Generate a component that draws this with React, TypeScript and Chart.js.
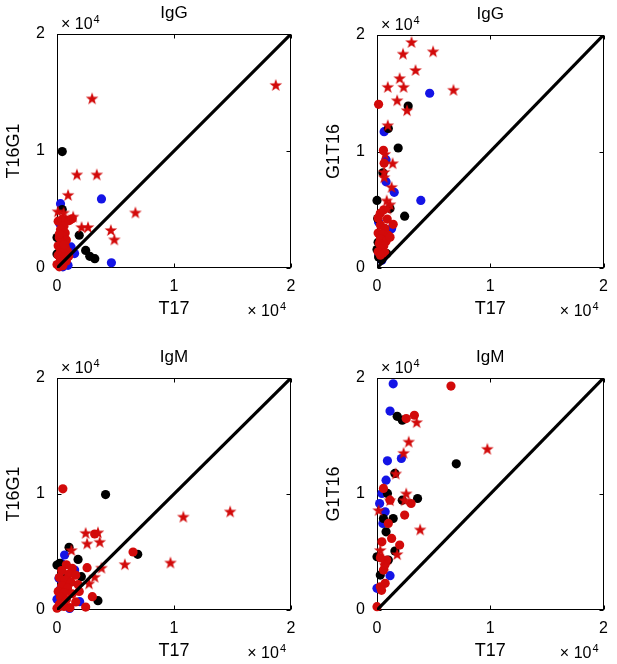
import React, { useEffect, useRef } from 'react';
import { Chart, registerables } from 'chart.js';
Chart.register(...registerables);

type Pt = [number, number];

const AXIS_MIN = 0;
const AXIS_MAX = 20000;
const TICK_VALUES = [0, 10000, 20000];
const TICK_LABELS = ['0', '1', '2'];
const PANEL_TITLES = ['IgG', 'IgG', 'IgM', 'IgM'];
const X_LABELS = ['T17', 'T17', 'T17', 'T17'];
const Y_LABELS = ['T16G1', 'G1T16', 'T16G1', 'G1T16'];
const DIAGONAL: Pt[] = [[0, 0], [20000, 20000]];

// Panel 1: IgG, T17 vs T16G1
const iggT16G1Blue: Pt[] = [[3800, 5900], [4650, 450], [300, 5500], [230, 3800], [1200, 1800], [1500, 1230], [940, 230], [230, 370], [500, 100]];
const iggT16G1Black: Pt[] = [[450, 9950], [450, 5000], [0, 2600], [1900, 2800], [2450, 1500], [2800, 1000], [3230, 800], [0, 1200], [500, 1800]];
const iggT16G1Red: Pt[] = [[100, 4000], [450, 4150], [750, 4100], [1050, 4050], [1300, 4200], [600, 3600], [300, 3300], [700, 3000], [500, 2700], [200, 2600], [800, 2400], [400, 2200], [100, 1900], [700, 1800], [300, 1600], [900, 1400], [500, 1300], [100, 1100], [600, 900], [300, 700], [800, 600], [0, 300], [200, 100], [500, 200], [400, 500], [1000, 1000], [200, 2900], [600, 2000]];
const iggT16G1Star: Pt[] = [[18700, 15650], [3000, 14500], [1700, 8000], [3400, 8000], [950, 6250], [6700, 4750], [70, 4850], [4600, 3250], [4900, 2450], [2650, 3500], [2100, 3500], [1380, 4400], [570, 4740]];

// Panel 2: IgG, T17 vs G1T16
const iggG1T16Blue: Pt[] = [[4650, 15000], [630, 11700], [800, 9300], [800, 7400], [1520, 6500], [3870, 5800], [1290, 3380], [140, 3950], [430, 660], [140, 1230]];
const iggG1T16Black: Pt[] = [[2750, 13900], [1000, 11980], [1870, 10300], [0, 5800], [520, 8170], [2440, 4450], [60, 4240], [140, 950], [0, 1580], [860, 1230], [1150, 5100], [400, 700], [100, 2200]];
const iggG1T16Red: Pt[] = [[140, 14050], [570, 10100], [630, 9000], [1430, 3750], [290, 4700], [600, 5000], [100, 4300], [900, 4200], [300, 3700], [700, 3400], [100, 3000], [500, 2900], [1000, 2800], [300, 2500], [800, 2300], [200, 2100], [600, 1900], [400, 1600], [100, 1400], [700, 1300], [300, 1100], [1150, 2650]];
const iggG1T16Star: Pt[] = [[3050, 19400], [2300, 18400], [4950, 18600], [3400, 17000], [2000, 16300], [950, 15550], [2350, 15550], [6750, 15300], [1780, 14400], [2650, 13550], [950, 12260], [1380, 9000], [630, 8250], [1290, 6960], [630, 7800], [860, 5800], [1150, 5470], [920, 5100], [700, 9800]];

// Panel 3: IgM, T17 vs T16G1
const igmT16G1Blue: Pt[] = [[650, 4740], [370, 4020], [170, 2730], [1940, 720], [0, 920], [1080, 140], [1510, 3440], [300, 1800]];
const igmT16G1Black: Pt[] = [[4150, 9950], [6900, 4800], [1030, 5400], [0, 3870], [1800, 4360], [2080, 2870], [3500, 800], [740, 2730], [230, 4020]];
const igmT16G1Red: Pt[] = [[500, 10450], [3220, 6550], [6500, 5000], [2570, 3650], [3020, 1150], [2450, 250], [0, 150], [800, 3900], [1300, 3600], [400, 3400], [1000, 3100], [1600, 3000], [200, 2800], [700, 2600], [1200, 2400], [1800, 2200], [400, 2100], [900, 1900], [100, 1600], [600, 1500], [1300, 1400], [300, 1100], [800, 900], [1600, 700], [200, 500], [600, 300], [1100, 200], [1900, 1600]];
const igmT16G1Star: Pt[] = [[14800, 8500], [10800, 8050], [9700, 4100], [5800, 3950], [2450, 6650], [3500, 6700], [2570, 5740], [3650, 5880], [3800, 3650], [3220, 2870], [1230, 5170], [2740, 2300]];

// Panel 4: IgM, T17 vs G1T16
const igmG1T16Blue: Pt[] = [[1430, 19500], [1150, 17150], [920, 12860], [2150, 13060], [800, 11190], [430, 10050], [230, 9180], [720, 8470], [520, 7460], [1150, 2960], [0, 1870]];
const igmG1T16Black: Pt[] = [[7000, 12600], [1780, 16700], [2230, 16360], [3580, 9610], [2230, 9470], [920, 10050], [1430, 7890], [570, 7890], [800, 6740], [0, 4590], [290, 3010], [1000, 4300], [1580, 5080], [1580, 11770]];
const igmG1T16Red: Pt[] = [[6530, 19300], [3300, 16790], [2580, 16500], [570, 10480], [3010, 9180], [2440, 8180], [1000, 7460], [430, 5880], [1290, 6170], [2000, 5600], [860, 4300], [570, 3440], [290, 2000], [0, 290], [720, 2300], [1150, 9470], [400, 1700], [700, 3900], [300, 4500]];
const igmG1T16Star: Pt[] = [[9740, 13900], [3500, 16200], [2800, 14520], [2350, 13550], [1660, 11770], [2580, 10050], [1150, 9470], [2440, 9470], [3810, 6950], [140, 8610], [290, 5170], [1780, 4820], [720, 3870]];

const PANEL_BLUE = [iggT16G1Blue, iggG1T16Blue, igmT16G1Blue, igmG1T16Blue];
const PANEL_BLACK = [iggT16G1Black, iggG1T16Black, igmT16G1Black, igmG1T16Black];
const PANEL_RED = [iggT16G1Red, iggG1T16Red, igmT16G1Red, igmG1T16Red];
const PANEL_STAR = [iggT16G1Star, iggG1T16Star, igmT16G1Star, igmG1T16Star];

const RED = '#d20a0a';
const BLUE = '#1414e6';
const BLACK = '#000000';
const FONT = '"Liberation Sans", Arial, Helvetica, sans-serif';

// layout of each panel canvas: left, top, width, height, y-axis width, pad top, pad right, x-axis height
const LAYOUT = [
  { left: 0, top: 0, width: 308, height: 332, yW: 57, padTop: 34, padRight: 17, xH: 64 },
  { left: 308, top: 0, width: 309, height: 332, yW: 69, padTop: 35, padRight: 8, xH: 64 },
  { left: 0, top: 332, width: 308, height: 332, yW: 57, padTop: 46, padRight: 17, xH: 54 },
  { left: 308, top: 332, width: 309, height: 332, yW: 69, padTop: 46, padRight: 8, xH: 54 },
];

function makeStar(color: string): HTMLCanvasElement {
  const size = 14;
  const c = document.createElement('canvas');
  c.width = size;
  c.height = size;
  const ctx = c.getContext('2d')!;
  const cx = size / 2, cy = size / 2 + 0.6;
  const R = 6.6, r = R * 0.4;
  ctx.beginPath();
  for (let i = 0; i < 10; i++) {
    const rad = i % 2 === 0 ? R : r;
    const a = -Math.PI / 2 + (i * Math.PI) / 5;
    const x = cx + rad * Math.cos(a);
    const y = cy + rad * Math.sin(a);
    if (i === 0) ctx.moveTo(x, y); else ctx.lineTo(x, y);
  }
  ctx.closePath();
  ctx.fillStyle = color;
  ctx.fill();
  return c;
}

const toXY = (arr: Pt[]) => arr.map(([x, y]) => ({ x, y }));

const decorPlugin = {
  id: 'decor',
  beforeDatasetsDraw(chart: any) {
    const { ctx, chartArea: a, scales } = chart;
    ctx.save();
    ctx.strokeStyle = '#000';
    ctx.lineWidth = 1;
    const l = Math.round(a.left) + 0.5, t = Math.round(a.top) + 0.5;
    const r = Math.round(a.right) - 0.5, b = Math.round(a.bottom) - 0.5;
    ctx.strokeRect(l, t, r - l, b - t);
    const tl = 4;
    ctx.beginPath();
    TICK_VALUES.forEach((v) => {
      const x = Math.round(scales.x.getPixelForValue(v)) + 0.5;
      ctx.moveTo(x, b); ctx.lineTo(x, b - tl);
      ctx.moveTo(x, t); ctx.lineTo(x, t + tl);
      const y = Math.round(scales.y.getPixelForValue(v)) + 0.5;
      ctx.moveTo(l, y); ctx.lineTo(l + tl, y);
      ctx.moveTo(r, y); ctx.lineTo(r - tl, y);
    });
    ctx.stroke();
    ctx.restore();
  },
  afterDraw(chart: any, _args: any, opts: any) {
    const { ctx, chartArea: a } = chart;
    const cx = (a.left + a.right) / 2;
    const cy = (a.top + a.bottom) / 2;
    ctx.save();
    ctx.fillStyle = '#000';
    ctx.textBaseline = 'middle';
    ctx.font = `17px ${FONT}`;
    ctx.textAlign = 'center';
    ctx.fillText(opts.title, cx, a.top - 21);
    ctx.font = `18px ${FONT}`;
    ctx.fillText(opts.xlabel, cx, a.bottom + 41);
    ctx.save();
    ctx.translate(a.left - 43, cy);
    ctx.rotate(-Math.PI / 2);
    ctx.fillText(opts.ylabel, 0, 0);
    ctx.restore();
    const drawExp = (x: number, y: number, alignRight: boolean) => {
      ctx.font = `16px ${FONT}`;
      const base = '\u00d7 10';
      const wBase = ctx.measureText(base).width;
      ctx.font = `11px ${FONT}`;
      const wSup = ctx.measureText('4').width;
      const start = alignRight ? x - wBase - wSup - 1 : x;
      ctx.textAlign = 'left';
      ctx.font = `16px ${FONT}`;
      ctx.fillText(base, start, y);
      ctx.font = `11px ${FONT}`;
      ctx.fillText('4', start + wBase + 1, y - 5);
    };
    drawExp(a.left + 4, a.top - 9, false);
    drawExp(a.right - 5, a.bottom + 44, true);
    ctx.restore();
  },
};

function buildChart(canvas: HTMLCanvasElement, i: number, star: HTMLCanvasElement) {
  const L = LAYOUT[i];
  const axisCommon = {
    type: 'linear' as const,
    min: AXIS_MIN,
    max: AXIS_MAX,
    grid: { display: false, drawTicks: false },
    border: { display: false },
    afterBuildTicks: (s: any) => {
      s.ticks = TICK_VALUES.map((v) => ({ value: v }));
    },
  };
  return new Chart(canvas, {
    type: 'scatter',
    data: {
      datasets: [
        {
          data: toXY(DIAGONAL),
          showLine: true,
          borderColor: BLACK,
          borderWidth: 3.2,
          pointRadius: 0,
          order: 0,
        } as any,
        {
          data: toXY(PANEL_STAR[i]),
          pointStyle: star,
          pointRadius: 7,
          order: 1,
          clip: false,
        } as any,
        {
          data: toXY(PANEL_RED[i]),
          backgroundColor: RED,
          borderWidth: 0,
          pointRadius: 4.6,
          order: 2,
          clip: false,
        },
        {
          data: toXY(PANEL_BLACK[i]),
          backgroundColor: BLACK,
          borderWidth: 0,
          pointRadius: 4.6,
          order: 3,
          clip: false,
        },
        {
          data: toXY(PANEL_BLUE[i]),
          backgroundColor: BLUE,
          borderWidth: 0,
          pointRadius: 4.6,
          order: 4,
          clip: false,
        },
      ],
    },
    options: {
      animation: false,
      responsive: false,
      maintainAspectRatio: false,
      devicePixelRatio: 1,
      layout: { padding: { top: L.padTop, right: L.padRight, left: 0, bottom: 0 } },
      plugins: {
        legend: { display: false },
        tooltip: { enabled: false },
        decor: { title: PANEL_TITLES[i], xlabel: X_LABELS[i], ylabel: Y_LABELS[i] },
      } as any,
      scales: {
        x: {
          ...axisCommon,
          position: 'bottom',
          ticks: {
            color: '#000',
            font: { family: FONT, size: 16 },
            padding: 9,
            maxRotation: 0,
            autoSkip: false,
            callback: (v: any) => TICK_LABELS[TICK_VALUES.indexOf(Number(v))],
          },
          afterFit: (s: any) => {
            s.height = L.xH;
          },
        },
        y: {
          ...axisCommon,
          position: 'left',
          ticks: {
            color: '#000',
            font: { family: FONT, size: 16 },
            padding: 12,
            autoSkip: false,
            callback: (v: any) => TICK_LABELS[TICK_VALUES.indexOf(Number(v))],
          },
          afterFit: (s: any) => {
            s.width = L.yW;
          },
        },
      },
    } as any,
    plugins: [decorPlugin],
  });
}

export default function App() {
  const refs = [useRef<HTMLCanvasElement>(null), useRef<HTMLCanvasElement>(null), useRef<HTMLCanvasElement>(null), useRef<HTMLCanvasElement>(null)];
  useEffect(() => {
    document.body.style.margin = '0';
    document.body.style.background = '#fff';
    const star = makeStar(RED);
    const charts = refs.map((r, i) => buildChart(r.current!, i, star));
    return () => charts.forEach((c) => c.destroy());
  }, []);
  return (
    <div style={{ position: 'relative', width: 617, height: 664, background: '#fff' }}>
      {LAYOUT.map((L, i) => (
        <canvas
          key={i}
          ref={refs[i]}
          width={L.width}
          height={L.height}
          style={{ position: 'absolute', left: L.left, top: L.top, width: L.width, height: L.height }}
        />
      ))}
    </div>
  );
}
